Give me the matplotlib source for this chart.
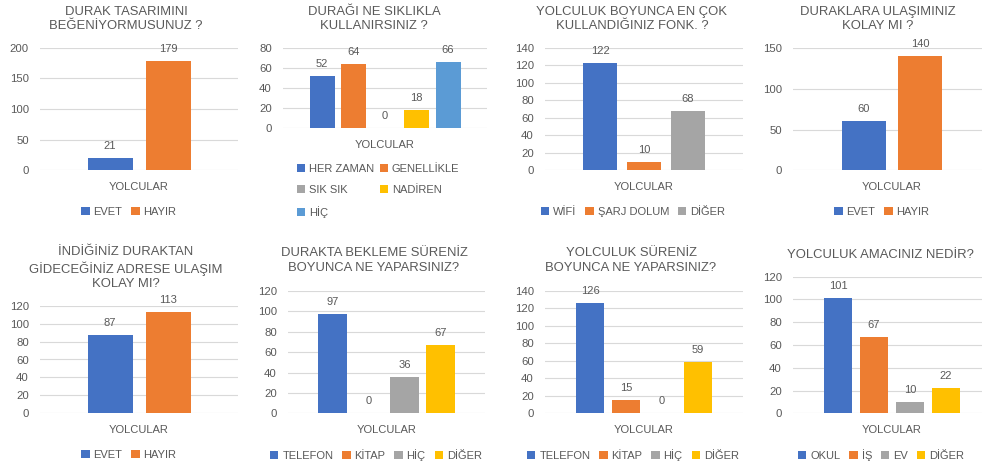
import matplotlib
matplotlib.use("Agg")
import matplotlib.pyplot as plt
from matplotlib.patches import Patch

plt.rcParams['font.family'] = ['Liberation Sans', 'DejaVu Sans']

# ---------------- data ----------------
cat_label = "YOLCULAR"

t1_title = "DURAK TASARIMINI\nBEĞENİYORMUSUNUZ ?"
t1_labels = ["EVET", "HAYIR"]
t1_values = [21, 179]

t2_title = "DURAĞI NE SIKLIKLA\nKULLANIRSINIZ ?"
t2_labels = ["HER ZAMAN", "GENELLİKLE", "SIK SIK", "NADİREN", "HİÇ"]
t2_values = [52, 64, 0, 18, 66]

t3_title = "YOLCULUK BOYUNCA EN ÇOK\nKULLANDIĞINIZ FONK. ?"
t3_labels = ["WİFİ", "ŞARJ DOLUM", "DİĞER"]
t3_values = [122, 10, 68]

t4_title = "DURAKLARA ULAŞIMINIZ\nKOLAY MI ?"
t4_labels = ["EVET", "HAYIR"]
t4_values = [60, 140]

t5_title = "İNDİĞİNİZ DURAKTAN\nGİDECEĞİNİZ ADRESE ULAŞIM\nKOLAY MI?"
t5_labels = ["EVET", "HAYIR"]
t5_values = [87, 113]

t6_title = "DURAKTA BEKLEME SÜRENİZ\nBOYUNCA NE YAPARSINIZ?"
t6_labels = ["TELEFON", "KİTAP", "HİÇ", "DİĞER"]
t6_values = [97, 0, 36, 67]

t7_title = "YOLCULUK SÜRENİZ\nBOYUNCA NE YAPARSINIZ?"
t7_labels = ["TELEFON", "KİTAP", "HİÇ", "DİĞER"]
t7_values = [126, 15, 0, 59]

t8_title = "YOLCULUK AMACINIZ NEDİR?"
t8_labels = ["OKUL", "İŞ", "EV", "DİĞER"]
t8_values = [101, 67, 10, 22]

# ---------------- style ----------------
BLUE, ORANGE, GRAY, GOLD, LBLUE = "#4472C4", "#ED7D31", "#A5A5A5", "#FFC000", "#5B9BD5"
TXT = "#595959"
GRID = "#D9D9D9"

W, H = 982, 469
fig = plt.figure(figsize=(W / 100, H / 100), dpi=100)


def fx(px):
    return px / W


def fy(py):
    return 1 - py / H


def panel(title, labels, values, colors, ax_l, ax_r, y0, ytop, ymax, ystep,
          bar_w, spacing, title_xy, xlabel_y, legend_xy, ncol=None, order=None,
          colspace=0.8, rowspace=0.75):
    ax = fig.add_axes([fx(ax_l), fy(y0), (ax_r - ax_l) / W, (y0 - ytop) / H])
    aw = ax_r - ax_l
    n = len(values)
    xs = [(i - (n - 1) / 2) * spacing / aw for i in range(n)]
    ax.bar(xs, values, width=bar_w / aw, color=colors[:n], zorder=3)
    for x, v in zip(xs, values):
        ax.annotate(str(v), (x, v), xytext=(0, 12), textcoords='offset pixels',
                    ha='center', va='center', fontsize=8, color=TXT)
    ax.set_xlim(-0.5, 0.5)
    ax.set_ylim(0, ymax)
    ax.set_yticks(range(0, ymax + 1, ystep))
    ax.set_xticks([])
    ax.grid(axis='y', color=GRID, linewidth=0.8, zorder=0)
    for s in ax.spines.values():
        s.set_visible(False)
    ax.tick_params(axis='y', length=0, pad=8, labelsize=8.2, labelcolor=TXT)
    fig.text(fx(title_xy[0]), fy(title_xy[1]), title, ha='center', va='center',
             fontsize=9.4, color=TXT, linespacing=1.3, multialignment='center')
    fig.text(fx((ax_l + ax_r) / 2), fy(xlabel_y), cat_label, ha='center', va='center',
             fontsize=8, color=TXT)
    idx = order if order else list(range(n))
    handles = [Patch(facecolor=colors[i]) for i in idx]
    labs = [labels[i] for i in idx]
    fig.legend(handles, labs, loc='center',
               bbox_to_anchor=(fx(legend_xy[0]), fy(legend_xy[1])),
               ncol=ncol if ncol else n, frameon=False, fontsize=8,
               labelcolor=TXT, handlelength=0.75, handleheight=0.75,
               handletextpad=0.35, columnspacing=colspace, labelspacing=rowspace,
               borderpad=0, borderaxespad=0)
    return ax


c5 = [BLUE, ORANGE, GRAY, GOLD, LBLUE]

panel(t1_title, t1_labels, t1_values, c5, 40, 238, 170.5, 47.7, 200, 50,
      45, 58, (126, 19), 187, (129, 212))
panel(t2_title, t2_labels, t2_values, c5, 283, 487, 128, 48.3, 80, 20,
      25, 31.5, (374, 19), 145, (378, 191), ncol=2, order=[0, 2, 4, 1, 3],
      colspace=0.5, rowspace=1.0)
panel(t3_title, t3_labels, t3_values, c5, 545, 743, 170.5, 47.7, 140, 20,
      34.5, 44, (632, 19), 187, (633, 212))
panel(t4_title, t4_labels, t4_values, c5, 793, 991, 170.5, 47.7, 150, 50,
      44.5, 56, (878, 19), 187, (882, 212))
panel(t5_title, t5_labels, t5_values, c5, 40, 238, 413.3, 305.7, 120, 20,
      45, 58, (126, 268), 430, (129, 455))
panel(t6_title, t6_labels, t6_values, c5, 288, 485, 413.3, 291, 120, 20,
      29, 36, (374, 260.5), 430, (376, 455))
panel(t7_title, t7_labels, t7_values, c5, 545, 743, 413.3, 291, 140, 20,
      28, 36, (631, 260.5), 430, (633, 455))
panel(t8_title, t8_labels, t8_values, c5, 793, 991, 413.3, 276.7, 120, 20,
      28.5, 36, (880, 255), 430, (881, 455))

fig.savefig("out.png", dpi=100, facecolor="white")
